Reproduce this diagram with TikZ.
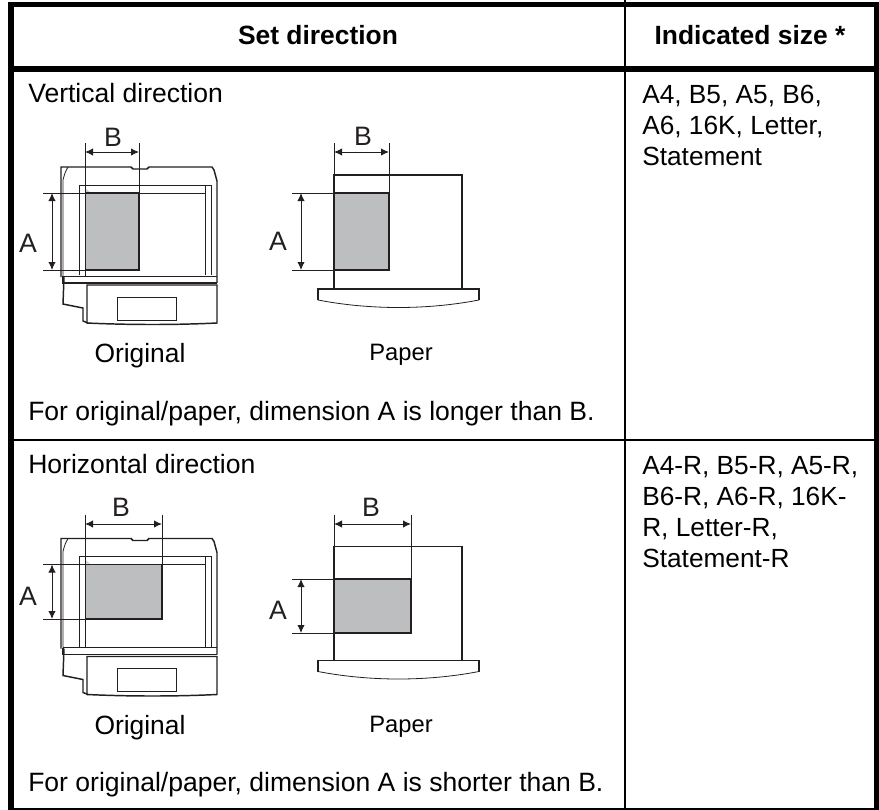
\documentclass[tikz,border=0pt]{standalone}
\usepackage{fontspec}
\setmainfont{Liberation Sans}
\definecolor{ink}{HTML}{231F20}
\definecolor{sheet}{HTML}{BCBEC0}
\usetikzlibrary{arrows.meta}
\tikzset{
  x=0.75pt,y=-0.75pt,
  rule/.style={line width=#1*0.75pt,black},
  body/.style={font=\fontsize{19.9pt}{24pt}\selectfont,inner sep=0pt,anchor=base west,text=black},
  side/.style={font=\fontsize{19.7pt}{24pt}\selectfont,inner sep=0pt,anchor=base west,text=black},
  head/.style={font=\fontsize{19.8pt}{24pt}\selectfont\bfseries,inner sep=0pt,anchor=base,text=black},
  letter/.style={font=\fontsize{20pt}{24pt}\selectfont,inner sep=0pt,text=ink},
  caption/.style={font=\fontsize{19.8pt}{24pt}\selectfont,inner sep=0pt,anchor=base,text=black},
  small/.style={font=\fontsize{17.8pt}{22pt}\selectfont,inner sep=0pt,anchor=base,text=black},
  thick line/.style={draw=ink,line width=1.1pt},
  thin line/.style={draw=ink,line width=0.6pt},
  dim/.style={draw=ink,line width=0.7pt,{Latex[length=6pt,width=5.5pt]}-{Latex[length=6pt,width=5.5pt]}},
}
\newcommand{\machine}{%
  % body
  \draw[thick line] (64,277) -- (63,304) -- (83,308) -- (83,321) -- (88,323);
  \draw[thick line] (61,277) -- (61,167) -- (131,167) -- (133,169) -- (147,169) -- (149,167) -- (212,167) -- (214,170) -- (217,181) -- (217,283);
  \draw[thin line] (68,167) .. controls (65,172) and (64,176) .. (63,180) -- (63,276);
  % platen
  \draw[thin line] (79,275) -- (79,185) -- (211,185) -- (211,275);
  \draw[thin line] (205,275) -- (205,185);
  % cover strip
  \draw[thin line] (63,276) -- (217,276);
  \draw[thick line] (63,276) -- (63,283) -- (217,283);
  % base
  \draw[thick line] (87,323) .. controls (130,325) and (175,325) .. (217,323) -- (217,285) -- (87,285) -- cycle;
  \draw[thin line] (117,297) rectangle (176,320);
  \fill[sheet!70!white] (85,188) -- (90,192) -- (85,192) -- cycle;
}
\newcommand{\tray}{%
  \draw[thick line] (318,300) -- (318,289) -- (479,289) -- (479,300);
  \draw[thin line] (318,300) .. controls (370,310) and (427,310) .. (479,300);
}
\begin{document}
\begin{tikzpicture}
\useasboundingbox (0,0) rectangle (879,810);
% ---- table rules
\draw[rule=5.5] (8,4.5) -- (877,4.5);
\draw[rule=6] (11,2) -- (11,810);
\draw[rule=5] (876.5,2) -- (876.5,810);
\draw[rule=6] (8,69) -- (879,69);
\draw[rule=2] (8,809) -- (879,809);
\draw[rule=2] (8,439.7) -- (879,439.7);
\draw[rule=2.5] (625,0) -- (625,810);
% ---- header
\node[head] (h1) at (318,44) {Set direction};
\node[head] (h2) at (750,44) {Indicated size *};
% ---- first row
\node[body] (t1) at (28,102) {Vertical direction};
\node[side] (s1) at (642,103) {A4, B5, A5, B6,};
\node[side] (s2) at (642,134) {A6, 16K, Letter,};
\node[side] (s3) at (642,165.5) {Statement};
\begin{scope}
  \machine
  \fill[sheet] (85,193) rectangle (139,270);
  \draw[thick line] (85,193) -- (139,193) -- (139,270) -- (85,270);
  \draw[thin line] (85,143) -- (85,276);
  \draw[thin line] (139,143) -- (139,193);
  \draw[thin line] (43,193) -- (205,193);
  \draw[thin line] (43,270) -- (85,270);
  \draw[dim] (85,152) -- (139,152);
  \draw[dim] (52,193) -- (52,270);
  \node[letter] (a1) at (28,243) {A};
  \node[letter] (b1) at (113,137) {B};
  \node[caption] (o1) at (140,362.5) {Original};
  % paper
  \draw[thick line] (334,289) -- (334,175) -- (462,175) -- (462,289);
  \tray
  \fill[sheet] (334,193) rectangle (389,270);
  \draw[thick line] (334,193) rectangle (389,270);
  \draw[thin line] (334,143) -- (334,175);
  \draw[thin line] (389,143) -- (389,193);
  \draw[thin line] (292,193) -- (334,193);
  \draw[thin line] (292,270) -- (334,270);
  \draw[dim] (334,152) -- (389,152);
  \draw[dim] (301,193) -- (301,270);
  \node[letter] (a2) at (278,241) {A};
  \node[letter] (b2) at (363,136) {B};
  \node[small] (p1) at (401,360.5) {Paper};
\end{scope}
\node[body] (f1) at (28,420) {For original/paper, dimension A is longer than B.};
% ---- second row
\node[body] (t2) at (28,473) {Horizontal direction};
\node[side] (s4) at (642,474.5) {A4-R, B5-R, A5-R,};
\node[side] (s5) at (642,505.5) {B6-R, A6-R, 16K-};
\node[side] (s6) at (642,536.5) {R, Letter-R,};
\node[side] (s7) at (642,567.5) {Statement-R};
\begin{scope}[shift={(0,371.5)}]
  \machine
  \fill[sheet] (85,193) rectangle (162,247.5);
  \draw[thick line] (85,193) -- (162,193) -- (162,247.5) -- (85,247.5);
  \draw[thin line] (85,143) -- (85,276);
  \draw[thin line] (162,143) -- (162,193);
  \draw[thin line] (43,193) -- (205,193);
  \draw[thin line] (43,247.5) -- (85,247.5);
  \draw[dim] (85,152.5) -- (162,152.5);
  \draw[dim] (52,193) -- (52,247.5);
  \node[letter] (a3) at (28,224.5) {A};
  \node[letter] (b3) at (121,136) {B};
  \node[caption] (o2) at (140,362.5) {Original};
  % paper
  \draw[thick line] (334,289) -- (334,175) -- (462,175) -- (462,289);
  \tray
  \fill[sheet] (334,207.5) rectangle (411,261.5);
  \draw[thick line] (334,207.5) rectangle (411,261.5);
  \draw[thin line] (334,143) -- (334,175);
  \draw[thin line] (411,143) -- (411,207.5);
  \draw[thin line] (292,207.5) -- (334,207.5);
  \draw[thin line] (292,261.5) -- (334,261.5);
  \draw[dim] (334,152.5) -- (411,152.5);
  \draw[dim] (301,207.5) -- (301,261.5);
  \node[letter] (a4) at (278,238.5) {A};
  \node[letter] (b4) at (371,136) {B};
  \node[small] (p2) at (401,360.5) {Paper};
\end{scope}
\node[body] (f2) at (28,791) {For original/paper, dimension A is shorter than B.};
\end{tikzpicture}
\end{document}
